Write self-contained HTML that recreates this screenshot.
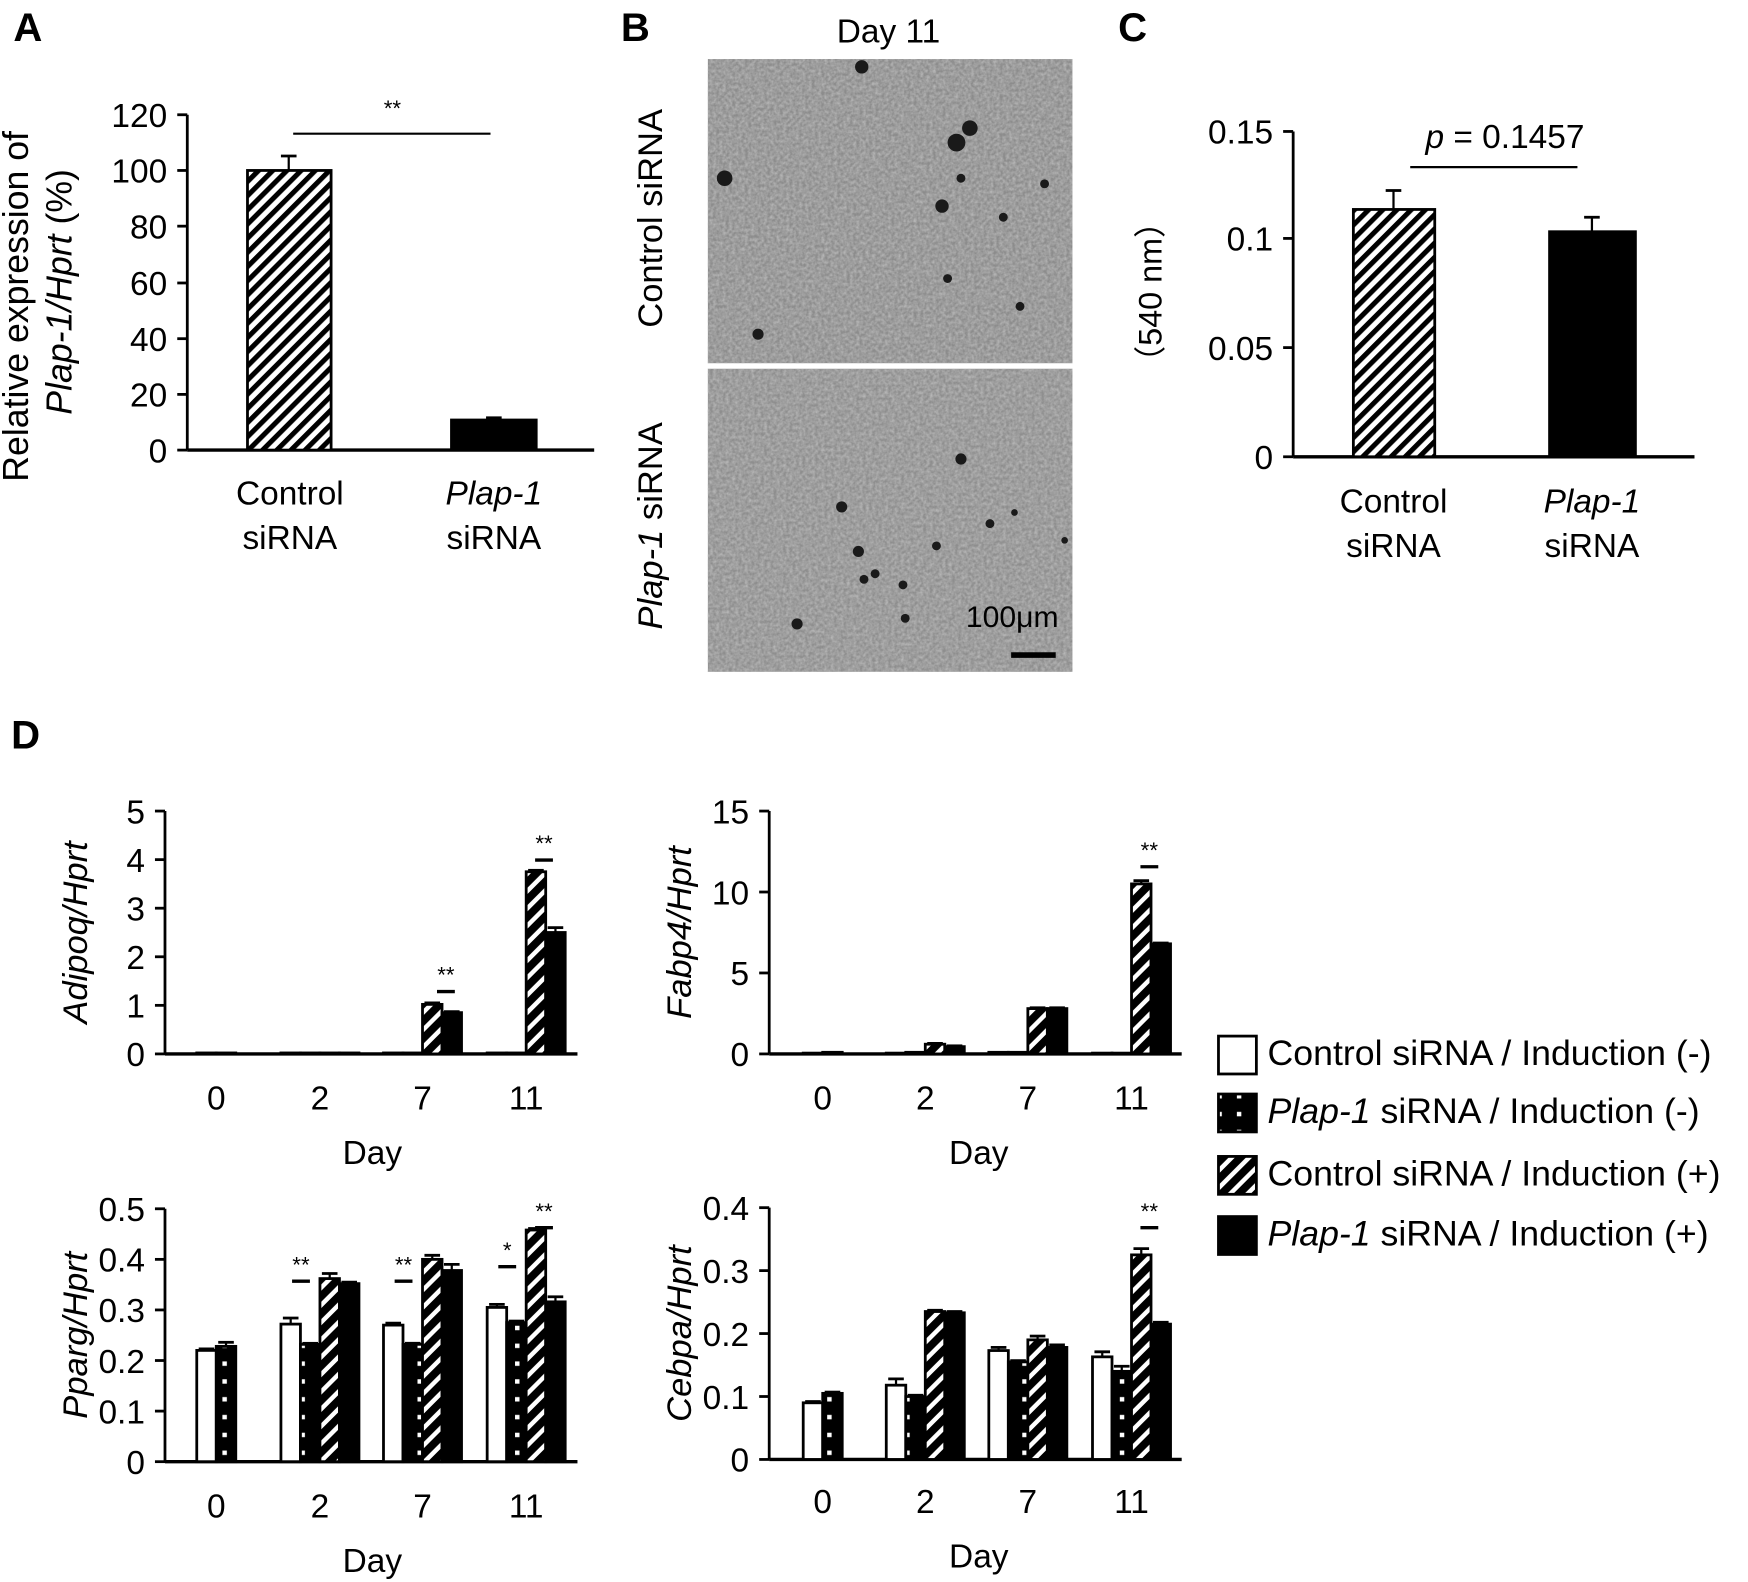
<!DOCTYPE html>
<html><head><meta charset="utf-8"><style>
html,body{margin:0;padding:0;background:#fff;width:1748px;height:1582px;overflow:hidden}
svg{display:block}
text{font-family:"Liberation Sans",sans-serif;fill:#000}
</style></head><body>
<svg id="s" width="1748" height="1582" viewBox="0 0 1568 1420" preserveAspectRatio="none" xmlns="http://www.w3.org/2000/svg">
<defs>
<pattern id="hA" width="9" height="9" patternUnits="userSpaceOnUse" patternTransform="rotate(45)"><rect width="9" height="9" fill="#fff"/><rect width="4.5" height="9" fill="#000"/></pattern>
<pattern id="hD" width="11" height="11" patternUnits="userSpaceOnUse" patternTransform="rotate(45)"><rect width="11" height="11" fill="#fff"/><rect width="7" height="11" fill="#000"/></pattern>
<pattern id="dot" width="17.5" height="16" patternUnits="userSpaceOnUse"><rect width="17.5" height="16" fill="#000"/><rect x="7" y="6" width="4" height="4" fill="#fff"/></pattern>
<filter id="tex" x="0" y="0" width="100%" height="100%"><feTurbulence type="fractalNoise" baseFrequency="0.35" numOctaves="2" seed="4"/><feColorMatrix type="matrix" values="0 0 0 0 0.55  0 0 0 0 0.55  0 0 0 0 0.55  1.2 0 0 0 -0.3"/></filter>
</defs>
<g id="g"></g>
</svg>
<script>
var o=[];
function T(x,y,s,fs,a,extra){o.push('<text x="'+x+'" y="'+y+'" font-size="'+(fs||30)+'" text-anchor="'+(a||'middle')+'" '+(extra||'')+'>'+s+'</text>');}
function L(x1,y1,x2,y2,w){o.push('<line x1="'+x1+'" y1="'+y1+'" x2="'+x2+'" y2="'+y2+'" stroke="#000" stroke-width="'+(w||2.5)+'"/>');}
function R(x,y,w,h,f){o.push('<rect x="'+x+'" y="'+y+'" width="'+w+'" height="'+h+'" fill="'+f+'" stroke="#000" stroke-width="2.5"/>');}
function err(cx,y,e){L(cx,y,cx,y-e,2);L(cx-7,y-e,cx+7,y-e,2.5);}
function axis(x,y0,y1,ticks,labs,xend,fs){L(x,y0,x,y1,2.5);L(x,y0,xend,y0,3);
 for(var i=0;i<ticks.length;i++){L(x-9,ticks[i],x,ticks[i],2.5);T(x-18,ticks[i]+11,labs[i],fs||30,'end');}}
T(12,37,'A',36,'start','font-weight="bold"');T(557,37,'B',36,'start','font-weight="bold"');
T(1003,37,'C',36,'start','font-weight="bold"');T(10,672,'D',36,'start','font-weight="bold"');
var aT=[404,354,304,254,203,153,103];axis(168,404,103,aT,['0','20','40','60','80','100','120'],533);
R(222,153,75,251,'url(#hA)');err(259,153,13);
R(405,377,76,27,'#000');err(443,377,2);
L(263,120,440,120,2);T(352,104,'**',20);
T(260,453,'Control',30);T(260,493,'siRNA',30);T(443,453,'Plap-1',30,'middle','font-style="italic"');T(443,493,'siRNA',30);
o.push('<text transform="translate(25,275) rotate(-90)" font-size="32" text-anchor="middle">Relative expression of</text>');
o.push('<text transform="translate(64,262) rotate(-90)" font-size="32" text-anchor="middle"><tspan font-style="italic">Plap-1/Hprt</tspan> (%)</text>');
T(797,38,'Day 11',30);
o.push('<rect x="635" y="53" width="327" height="273" fill="#8c8c8c"/><rect x="635" y="53" width="327" height="273" filter="url(#tex)"/>');
o.push('<rect x="635" y="331" width="327" height="272" fill="#8e8e8e"/><rect x="635" y="331" width="327" height="272" filter="url(#tex)"/>');
var b1=[[773,60,6],[650,160,7],[858,128,8],[870,115,7],[845,185,6],[937,165,4],[850,250,4],[915,275,4],[680,300,5],[900,195,4],[862,160,4]];
var b2=[[755,455,5],[862,412,5],[770,495,5],[785,515,4],[840,490,4],[888,470,4],[775,520,4],[810,525,4],[715,560,5],[812,555,4],[955,485,3],[910,460,3]];
b1.concat(b2).forEach(function(c){o.push('<circle cx="'+c[0]+'" cy="'+c[1]+'" r="'+c[2]+'" fill="#1a1a1a"/>');});
L(907,588,947,588,5);T(908,563,'100μm',27);
o.push('<text transform="translate(594,196) rotate(-90)" font-size="31" text-anchor="middle">Control siRNA</text>');
o.push('<text transform="translate(594,472) rotate(-90)" font-size="31" text-anchor="middle"><tspan font-style="italic">Plap-1</tspan> siRNA</text>');
axis(1160,410,118,[410,312,214,118],['0','0.05','0.1','0.15'],1520);
R(1214,188,73,222,'url(#hA)');err(1250,188,17);
R(1390,208,77,202,'#000');err(1428,208,13);
L(1265,150,1415,150,2);T(1350,133,'<tspan font-style="italic">p</tspan> = 0.1457',30);
T(1250,460,'Control',30);T(1250,500,'siRNA',30);T(1428,460,'Plap-1',30,'middle','font-style="italic"');T(1428,500,'siRNA',30);
o.push('<text transform="translate(1042,262) rotate(-90)" font-size="29" text-anchor="middle">（540 nm）</text>');
var fills=['#fff','url(#dot)','url(#hD)','#000'];
function chart(ax,y0,yt,max,ticks,labs,centers,data,errs,name,sigs,dayY){
 var ty=[];for(var i=0;i<ticks.length;i++)ty.push(y0-(y0-yt)*ticks[i]/max);
 axis(ax,y0,yt,ty,labs,ax+370,30);
 data.forEach(function(g,gi){var c=centers[gi];var n=g.length;var st=n==2?c-17.5:c-35;
  g.forEach(function(v,bi){var h=(y0-yt)*v/max;var x=st+bi*17.5;R(x,y0-h,17.5,h,fills[bi]);var e=errs[gi][bi];if(e>0)err(x+8.75,y0-h,(y0-yt)*e/max);});});
 sigs.forEach(function(s){L(s[0]-8,s[1],s[0]+8,s[1],3);T(s[0],s[1]-8,s[2],20);});
 ['0','2','7','11'].forEach(function(d,i){T(centers[i],dayY,d,30);});
 T(centers[0]+140,dayY+49,'Day',30);
 o.push('<text transform="translate('+(ax-70)+','+((y0+yt)/2)+') rotate(-90)" font-size="31" text-anchor="middle" font-style="italic">'+name+'</text>');
}
var c1=[194,287,379,472],c2=[738,830,922,1015];
chart(148,946,728,5,[0,1,2,3,4,5],['0','1','2','3','4','5'],c1,
 [[0.02,0.02],[0.02,0.02,0.02,0.02],[0.02,0.02,1.02,0.85],[0.02,0.02,3.75,2.5]],
 [[0,0],[0,0,0,0],[0,0,0.03,0.02],[0,0,0.03,0.1]],'Adipoq/Hprt',[[400,890,'**'],[488,772,'**']],996);
chart(690,946,728,15,[0,5,10,15],['0','5','10','15'],c2,
 [[0.05,0.1],[0.05,0.1,0.6,0.45],[0.1,0.1,2.8,2.8],[0.05,0.05,10.5,6.8]],
 [[0,0],[0,0,0.05,0.05],[0,0,0.05,0.05],[0,0,0.2,0.05]],'Fabp4/Hprt',[[1031,778,'**']],996);
chart(148,1312,1085,0.5,[0,0.1,0.2,0.3,0.4,0.5],['0','0.1','0.2','0.3','0.4','0.5'],c1,
 [[0.22,0.228],[0.272,0.232,0.362,0.352],[0.27,0.232,0.4,0.378],[0.305,0.275,0.458,0.316]],
 [[0.003,0.008],[0.012,0.002,0.01,0.003],[0.004,0.002,0.008,0.012],[0.006,0.003,0.003,0.01]],'Pparg/Hprt',[[270,1150,'**'],[362,1150,'**'],[455,1137,'*'],[488,1102,'**']],1362);
chart(690,1310,1084,0.4,[0,0.1,0.2,0.3,0.4],['0','0.1','0.2','0.3','0.4'],c2,
 [[0.09,0.105],[0.118,0.1,0.235,0.233],[0.173,0.155,0.19,0.178],[0.163,0.14,0.325,0.215]],
 [[0.002,0.002],[0.01,0.002,0.002,0.002],[0.005,0.002,0.006,0.004],[0.008,0.008,0.01,0.003]],'Cebpa/Hprt',[[1031,1102,'**']],1358);
var ly=[945,997,1053,1107],lt=['Control siRNA / Induction (-)','<tspan font-style="italic">Plap-1</tspan> siRNA / Induction (-)','Control siRNA / Induction (+)','<tspan font-style="italic">Plap-1</tspan> siRNA / Induction (+)'];
for(var i=0;i<4;i++){R(1093,ly[i]-15,34,34,fills[i]);T(1137,ly[i]+11,lt[i],32,'start');}
document.getElementById('g').innerHTML=o.join('');
</script>
</body></html>
